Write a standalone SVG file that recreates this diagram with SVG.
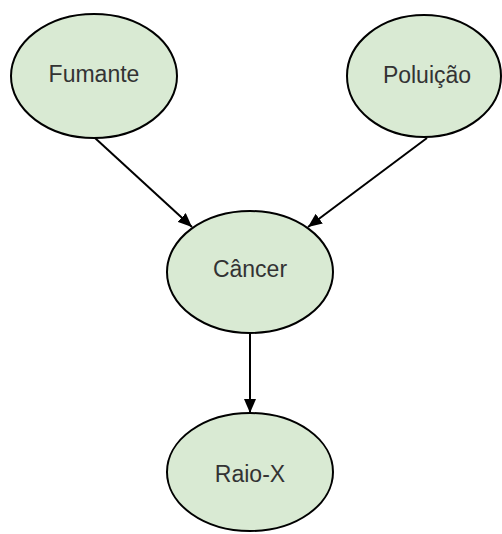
<svg xmlns="http://www.w3.org/2000/svg" width="502" height="534" viewBox="0 0 502 534">
  <style>
    .node ellipse { fill: #d9ead3; stroke: #000000; stroke-width: 2; }
    .node text { font-family: "Liberation Sans", Arial, sans-serif; font-size: 23px; fill: #333333; text-anchor: middle; }
    .edge { stroke: #000000; stroke-width: 2; fill: none; marker-end: url(#arrow); }
  </style>
  <defs>
    <marker id="arrow" viewBox="0 0 14 12" refX="14" refY="6" markerWidth="14" markerHeight="12" markerUnits="userSpaceOnUse" orient="auto">
      <path d="M0,0 L14,6 L0,12 Z" fill="#000000"/>
    </marker>
  </defs>
  <rect width="502" height="534" fill="#ffffff"/>

  <g id="connectors">
    <line class="edge" x1="95" y1="138" x2="192" y2="227"/>
    <line class="edge" x1="427" y1="138" x2="308" y2="227"/>
    <line class="edge" x1="250" y1="333" x2="250" y2="413"/>
  </g>

  <g id="fumante" class="node">
    <ellipse cx="94" cy="76" rx="83" ry="62"/>
    <text x="94" y="82">Fumante</text>
  </g>
  <g id="poluicao" class="node">
    <ellipse cx="424" cy="76" rx="77" ry="61"/>
    <text x="427" y="83">Poluição</text>
  </g>
  <g id="cancer" class="node">
    <ellipse cx="250" cy="272" rx="83" ry="61"/>
    <text x="250" y="277">Câncer</text>
  </g>
  <g id="raio-x" class="node">
    <ellipse cx="250" cy="472" rx="83" ry="59"/>
    <text x="250" y="482">Raio-X</text>
  </g>
</svg>
